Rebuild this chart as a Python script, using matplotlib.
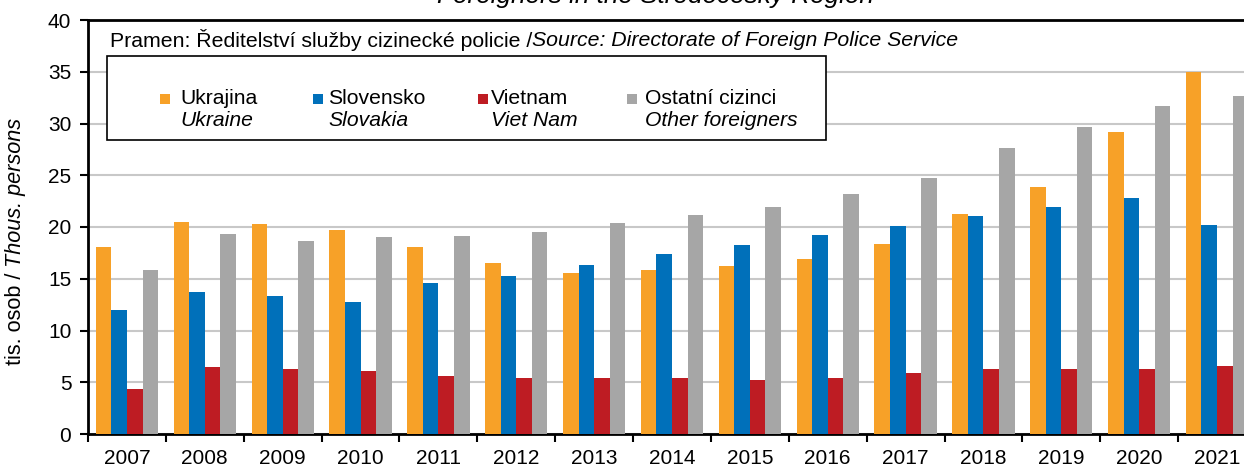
import matplotlib
matplotlib.use('Agg')
import matplotlib.pyplot as plt
import numpy as np
from matplotlib.patches import Rectangle

plt.rcParams['font.family'] = ['Liberation Sans', 'DejaVu Sans']

# data (thousands of persons)
years = [str(y) for y in range(2007, 2022)]
ukraine = [18.1, 20.5, 20.3, 19.7, 18.1, 16.5, 15.6, 15.8, 16.2, 16.9, 18.4, 21.3, 23.9, 29.2, 35.0]
slovakia = [11.95, 13.7, 13.3, 12.8, 14.55, 15.3, 16.3, 17.4, 18.3, 19.25, 20.05, 21.05, 21.9, 22.85, 20.15]
vietnam = [4.35, 6.5, 6.25, 6.1, 5.6, 5.4, 5.4, 5.4, 5.2, 5.4, 5.85, 6.3, 6.25, 6.3, 6.6]
others = [15.8, 19.35, 18.6, 19.0, 19.1, 19.5, 20.4, 21.2, 21.9, 23.15, 24.75, 27.65, 29.7, 31.7, 32.7]

series = [ukraine, slovakia, vietnam, others]
names_cz = ['Ukrajina', 'Slovensko', 'Vietnam', 'Ostatní cizinci']
names_en = ['Ukraine', 'Slovakia', 'Viet Nam', 'Other foreigners']
colors = ['#F7A128', '#0070BA', '#BE1C23', '#A6A6A6']

W, H = 1244, 468
fig = plt.figure(figsize=(W / 100, H / 100), dpi=100)
ax = fig.add_axes([88 / W, 1 - 434 / H, 1168 / W, 414 / H])

x = np.arange(len(years))
bw = 0.2
for i, (vals, c) in enumerate(zip(series, colors)):
    ax.bar(x + (i - 1.5) * bw, vals, bw, color=c, edgecolor='none', zorder=3)

ax.set_xlim(-0.5, len(years) - 0.5)
ax.set_ylim(0, 40)
ax.set_yticks(range(0, 41, 5))
ax.grid(axis='y', color='#C8C8C8', linewidth=1.5, zorder=0)
ax.set_xticks(x)
ax.set_xticklabels(years)
ax.set_xticks(np.arange(-0.5, len(years), 1), minor=True)
ax.tick_params(axis='x', which='major', length=0, labelsize=15, pad=10.5)
ax.tick_params(axis='x', which='minor', length=6, width=1.5, direction='out')
ax.tick_params(axis='y', length=6, width=1.5, direction='out', labelsize=15, pad=6)
for s in ax.spines.values():
    s.set_linewidth(2)
    s.set_color('black')
ax.spines['right'].set_visible(False)


def fx(px):
    return px / W


def fy(py):
    return 1 - py / H


# title (cut off at the top edge, as in the source)
fig.text(fx(655), fy(3), 'Foreigners in the Středočeský Region', ha='center',
         va='baseline', fontsize=18.8, style='italic')

# y label, regular + italic part
yl1 = fig.text(fx(16), fy(365), 'tis. osob /', rotation=90, ha='center',
               va='bottom', fontsize=15.6)
fig.canvas.draw()
bb = yl1.get_window_extent()
fig.text(fx(16), bb.y1 / H, ' Thous. persons', rotation=90, ha='center',
         va='bottom', fontsize=15.6, style='italic')

# source line
t1 = fig.text(fx(110), fy(40), 'Pramen: Ředitelství služby cizinecké policie /',
              ha='left', va='center', fontsize=15.3)
fig.canvas.draw()
bb = t1.get_window_extent()
fig.text(bb.x1 / W, fy(40), 'Source: Directorate of Foreign Police Service',
         ha='left', va='center', fontsize=15.3, style='italic')

# legend box
fig.patches.append(Rectangle((fx(107), fy(140)), fx(826) - fx(107), (140 - 56) / H,
                             transform=fig.transFigure, facecolor='white',
                             edgecolor='black', linewidth=1.2, zorder=5))
sq_x = [160, 313, 478, 627]
tx_x = [180, 328, 491, 645]
for c, cz, en, sx, tx in zip(colors, names_cz, names_en, sq_x, tx_x):
    fig.patches.append(Rectangle((fx(sx), fy(104)), 10 / W, 10 / H,
                                 transform=fig.transFigure, facecolor=c,
                                 edgecolor='none', zorder=6))
    fig.text(fx(tx), fy(99), cz, ha='left', va='center', fontsize=15.2, zorder=7)
    fig.text(fx(tx), fy(121), en, ha='left', va='center', fontsize=15.2,
             style='italic', zorder=7)

fig.savefig('out.png', dpi=100)
